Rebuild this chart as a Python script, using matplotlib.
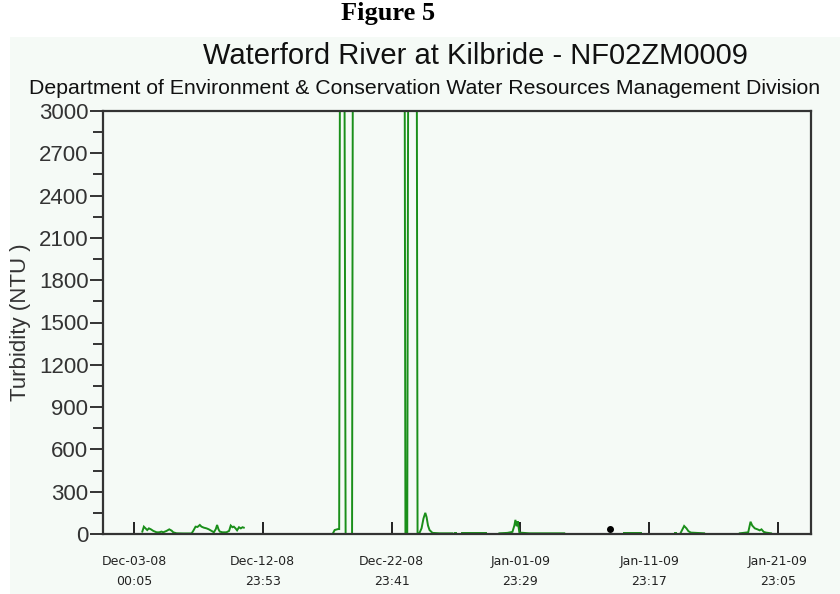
import matplotlib.pyplot as plt
import numpy as np
from matplotlib.patches import Rectangle

# tempo em dias desde Dec-03-08 00:05 e turbidez (NTU)
inicio = np.datetime64("2008-12-03T00:05")

dias_1 = [0.65, 0.77, 0.90, 1.03, 1.16, 1.32, 1.50, 1.63, 1.76, 1.96, 2.14, 2.27, 2.53, 2.74,
          2.92, 3.05, 3.31, 3.82, 4.47, 4.60, 4.78, 4.93, 5.11, 5.24, 5.42, 5.63, 5.81, 6.02,
          6.20, 6.35, 6.45, 6.56, 6.66, 6.87, 7.17, 7.38, 7.51, 7.64, 7.75, 7.88, 8.00, 8.15,
          8.29, 8.42, 8.52]
turb_1 = [17, 52, 40, 28, 40, 33, 22, 17, 12, 12, 17, 12, 22, 33,
          24, 12, 5, 4, 4, 22, 52, 50, 64, 52, 45, 40, 33, 22,
          12, 35, 64, 33, 17, 12, 12, 22, 60, 48, 52, 40, 26, 48,
          40, 48, 45]

# picos fora de escala (> 3000)
dias_2 = [15.44, 15.57, 15.83, 15.92, 16.00, 16.30, 16.42, 16.92, 17.00, 20.98, 21.06,
          21.20, 21.30, 21.92, 22.00, 22.15, 22.31, 22.46, 22.60, 22.70, 22.81, 22.93,
          23.16, 23.70, 24.71]
turb_2 = [5, 28, 35, 35, 4500, 4500, 0, 0, 4500, 4500, 0,
          0, 4500, 4500, 0, 8, 40, 110, 150, 120, 60, 28,
          8, 5, 5]

dias_3 = [24.90, 25.02]
turb_3 = [5, 5]

dias_4 = [25.41, 27.34]
turb_4 = [5, 5]

dias_5 = [28.35, 28.97, 29.36, 29.51, 29.59, 29.69, 29.77, 29.90, 30.67, 33.38]
turb_5 = [5, 8, 15, 60, 100, 55, 90, 10, 5, 5]

dias_6 = [38.03, 39.37]
turb_6 = [5, 5]

dias_7 = [41.98, 42.06]
turb_7 = [5, 5]

dias_8 = [42.42, 42.68, 42.86, 43.01, 43.20, 44.23]
turb_8 = [10, 57, 40, 20, 10, 5]

dias_9 = [47.00, 47.65, 47.83, 47.96, 48.16, 48.37, 48.54, 48.68, 48.85, 49.03, 49.42]
turb_9 = [5, 12, 87, 60, 40, 33, 26, 33, 15, 10, 5]

# ponto isolado em preto
dia_ponto = [36.92]
turb_ponto = [33]

marcas = ["Dec-03-08\n00:05", "Dec-12-08\n23:53", "Dec-22-08\n23:41",
          "Jan-01-09\n23:29", "Jan-11-09\n23:17", "Jan-21-09\n23:05"]
intervalo_min = 14388  # 9 dias 23:48


def tempo(d):
    return inicio + (np.array(d) * 86400).astype("timedelta64[s]")


fundo = "#f5faf6"
verde = "#1a8f1a"

fig = plt.figure(figsize=(8.4, 5.94), dpi=100)
fig.patches.append(Rectangle((10 / 840, 0), 1, (594 - 37) / 594, transform=fig.transFigure,
                             facecolor=fundo, edgecolor="none", zorder=-5))

ax = fig.add_axes([103 / 840, 60 / 594, (811 - 103) / 840, (534 - 111) / 594])
ax.set_facecolor(fundo)

for d, t in [(dias_1, turb_1), (dias_2, turb_2), (dias_3, turb_3), (dias_4, turb_4),
             (dias_5, turb_5), (dias_6, turb_6), (dias_7, turb_7), (dias_8, turb_8),
             (dias_9, turb_9)]:
    ax.plot(tempo(d), t, color=verde, lw=1.4, solid_joinstyle="miter")
ax.plot(tempo(dia_ponto), turb_ponto, "o", color="black", ms=4)

ticks = inicio + np.arange(len(marcas)) * np.timedelta64(intervalo_min, "m")
ax.set_xticks(ticks, marcas)
for lbl in ax.get_xticklabels():
    lbl.set_linespacing(1.7)
    lbl.set_family("DejaVu Sans")
ax.set_xlim(tempo([-2.40])[0], tempo([52.52])[0])

ax.set_ylim(0, 3000)
ax.set_yticks(np.arange(0, 3001, 300))
ax.set_yticks(np.arange(150, 3000, 300), minor=True)

ax.tick_params(axis="x", direction="in", length=9, width=1.4, labelsize=9, pad=15, color="#222222",
               labelcolor="#222222")
ax.tick_params(axis="y", which="major", direction="out", length=9.5, width=1.4, labelsize=16,
               pad=1, color="#333333", labelfontfamily="Liberation Sans", labelcolor="#333333")
ax.tick_params(axis="y", which="minor", direction="out", length=7, width=1.4, color="#333333")

for s in ax.spines.values():
    s.set_color("#333333")
    s.set_linewidth(1.6)

ax.set_ylabel("Turbidity (NTU )", fontsize=16, family="Liberation Sans", color="#333333")
ax.yaxis.set_label_coords(-0.102, 0.5)

fig.text(388 / 840, 1 - 20 / 594, "Figure 5", family="Liberation Serif", weight="bold",
         fontsize=19, ha="center", va="baseline")
fig.text(475 / 840, 1 - 64 / 594, "Waterford River at Kilbride - NF02ZM0009",
         family="Liberation Sans", fontsize=21, ha="center", va="baseline", color="#111111")
fig.text(425 / 840, 1 - 94 / 594,
         "Department of Environment & Conservation Water Resources Management Division",
         family="Liberation Sans", fontsize=15.3, ha="center", va="baseline", color="#111111")

fig.savefig("out.png", dpi=100)
